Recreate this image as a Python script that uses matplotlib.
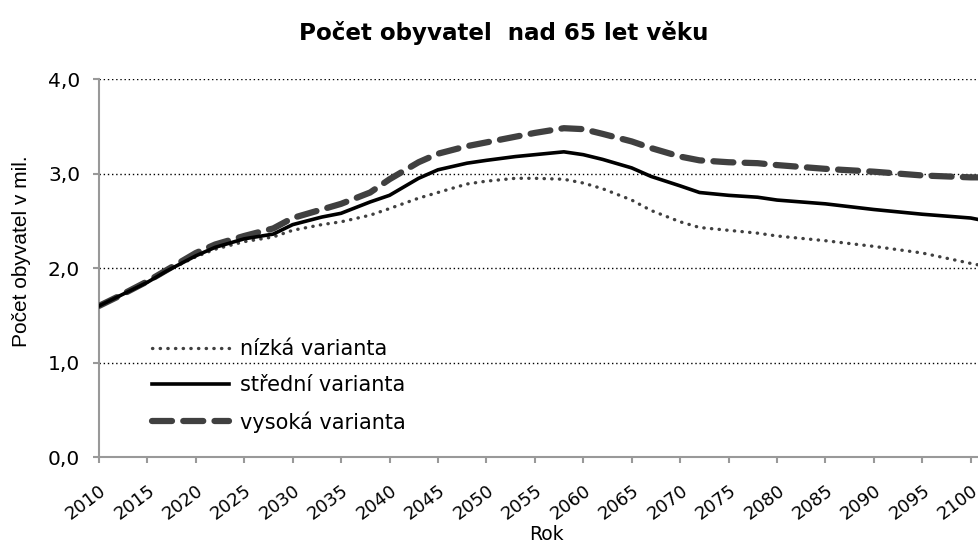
import numpy as np
import matplotlib
matplotlib.use("Agg")
import matplotlib.pyplot as plt

plt.rcParams["font.family"] = ["DejaVu Sans"]

# Data (millions of inhabitants aged 65+)
years = [2010, 2012, 2015, 2017, 2020, 2022, 2025, 2028, 2030, 2033, 2035, 2038,
         2040, 2043, 2045, 2048, 2050, 2053, 2055, 2058, 2060, 2062, 2065, 2067,
         2070, 2072, 2075, 2078, 2080, 2085, 2090, 2095, 2100, 2101]
low = [1.60, 1.70, 1.85, 1.97, 2.12, 2.20, 2.28, 2.33, 2.40, 2.46, 2.49, 2.56,
       2.63, 2.74, 2.80, 2.89, 2.92, 2.95, 2.95, 2.94, 2.90, 2.84, 2.72, 2.61,
       2.49, 2.43, 2.40, 2.37, 2.34, 2.29, 2.23, 2.16, 2.05, 2.03]
mid = [1.60, 1.70, 1.85, 1.97, 2.13, 2.22, 2.31, 2.36, 2.46, 2.54, 2.58, 2.70,
       2.77, 2.95, 3.04, 3.11, 3.14, 3.18, 3.20, 3.23, 3.20, 3.15, 3.06, 2.97,
       2.87, 2.80, 2.77, 2.75, 2.72, 2.68, 2.62, 2.57, 2.53, 2.51]
high = [1.60, 1.70, 1.86, 1.98, 2.16, 2.25, 2.34, 2.42, 2.53, 2.62, 2.68, 2.80,
        2.94, 3.12, 3.21, 3.29, 3.33, 3.39, 3.43, 3.48, 3.47, 3.42, 3.34, 3.27,
        3.18, 3.14, 3.12, 3.11, 3.09, 3.05, 3.02, 2.98, 2.96, 2.96]
labels = ["nízká varianta", "střední varianta", "vysoká varianta"]
xticks = list(range(2010, 2101, 5))
yticks = [0.0, 1.0, 2.0, 3.0, 4.0]

fig = plt.figure(figsize=(9.79, 5.45), dpi=100)
ax = fig.add_axes([0.101, 0.161, 0.899, 0.694])

ax.plot(years, low, color="#404040", lw=2.4, ls=(0, (0.1, 2.2)),
        dash_capstyle="round", label=labels[0], zorder=3)
ax.plot(years, mid, color="black", lw=2.6, label=labels[1], zorder=4)
ax.plot(years, high, color="#404040", lw=4.5, ls=(0, (3.2, 1.8)),
        dash_capstyle="round", label=labels[2], zorder=3)

ax.set_xlim(2010, 2100.85)
ax.set_ylim(0, 4.0)
ax.set_xticks(xticks)
ax.set_xticklabels([str(y) for y in xticks], rotation=37, ha="right", va="top",
                   rotation_mode="anchor", fontsize=13)
ax.set_yticks(yticks)
ax.set_yticklabels([f"{v:.1f}".replace(".", ",") for v in yticks], fontsize=14.5)

for v in yticks[1:]:
    ax.axhline(v, color="black", lw=1.0, ls=(0, (1, 2)), zorder=1)

ax.spines[["top", "right"]].set_visible(False)
ax.spines[["left", "bottom"]].set_color("#999999")
ax.spines[["left", "bottom"]].set_linewidth(1.5)
ax.tick_params(axis="both", direction="out", color="#999999", width=1.5,
               length=4.5, labelcolor="black")
ax.tick_params(axis="x", pad=13)
ax.tick_params(axis="y", pad=9)

fig.text(0.558, 1 - 534 / 545, "Rok", ha="center", va="center", fontsize=13.5)
fig.text(22 / 979, 1 - 251 / 545, "Počet obyvatel v mil.", rotation=90,
         ha="center", va="center", fontsize=15, family="Liberation Sans")

fig.text(0.515, 1 - 33 / 545, "Počet obyvatel  nad 65 let věku", ha="center",
         va="center", fontsize=16.6, fontweight="bold")

ax.legend(loc="center left", bbox_to_anchor=(0.155, 1 - 386 / 545),
          bbox_transform=fig.transFigure, frameon=False, fontsize=15,
          handlelength=3.7, handletextpad=0.55, labelspacing=0.76,
          borderpad=0, borderaxespad=0)

fig.savefig("out.png", dpi=100)
